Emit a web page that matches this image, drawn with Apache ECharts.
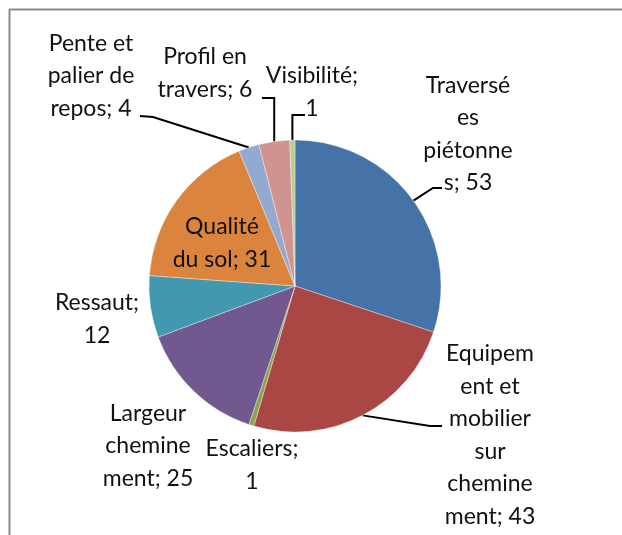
<!DOCTYPE html>
<html>
<head>
<meta charset="utf-8">
<script src="https://cdn.jsdelivr.net/npm/echarts@6/dist/echarts.min.js"></script>
<style>
  html, body { margin: 0; padding: 0; background: #fff; }
  #chart { width: 622px; height: 535px; }
</style>
</head>
<body>
<div id="chart"></div>
<script>
// ---- data ----
const categories = ['Traversées piétonnes', 'Equipement et mobilier sur cheminement', 'Escaliers',
  'Largeur cheminement', 'Ressaut', 'Qualité du sol', 'Pente et palier de repos', 'Profil en travers', 'Visibilité'];
const values = [53, 43, 1, 25, 12, 31, 4, 6, 1];
// label text as wrapped in the source; {c} is replaced by the value
const labelTexts = ['Traversé\nes\npiétonne\ns; {c}', 'Equipem\nent et\nmobilier\nsur\nchemine\nment; {c}',
  'Escaliers;\n{c}', 'Largeur\nchemine\nment; {c}', 'Ressaut;\n{c}', 'Qualité\ndu sol; {c}',
  'Pente et\npalier de\nrepos; {c}', 'Profil en\ntravers; {c}', 'Visibilité;\n{c}'];
const colors = ['#4572A7', '#AA4643', '#89A54E', '#71588F', '#4198AF', '#DB843D', '#93A9CF', '#D19392', '#B9CD96'];

// ---- layout (label centres and leader bends, px) ----
const labelPos = [[468, 134], [490, 435], [252, 465], [148, 446], [97, 319], [222, 243], [91, 76], [205, 73], [312, 92]];
const leaderBends = {
  0: [[433, 188], [442, 188]],
  1: [[430, 426], [442, 426]],
  6: [[153, 117], [140, 116]],
  7: ['v', 98, 262],
  8: ['v', 115, 305]
};
const noLeader = [2, 3, 4, 5];

const chart = echarts.init(document.getElementById('chart'), null, { renderer: 'canvas' });
const data = categories.map((n, i) => {
  const item = { name: n, value: values[i], itemStyle: { color: colors[i] } };
  if (i === 5) { item.label = { position: 'inside' }; }
  if (noLeader.includes(i)) { item.labelLine = { show: false }; }
  return item;
});

chart.setOption({
  animation: false,
  backgroundColor: '#fff',
  graphic: [
    { type: 'line', shape: { x1: 9, y1: 9.5, x2: 622, y2: 9.5 }, style: { stroke: '#8a8a8a', lineWidth: 2 } },
    { type: 'line', shape: { x1: 9.5, y1: 9, x2: 9.5, y2: 535 }, style: { stroke: '#8a8a8a', lineWidth: 2 } }
  ],
  series: [{
    type: 'pie',
    center: [295, 286],
    radius: 146,
    startAngle: 90,
    clockwise: true,
    avoidLabelOverlap: false,
    itemStyle: { borderColor: 'rgba(255,255,255,0.6)', borderWidth: 0.6 },
    label: {
      show: true,
      position: 'outside',
      formatter: p => labelTexts[p.dataIndex].replace('{c}', p.value),
      fontFamily: 'Lato',
      fontSize: 23,
      lineHeight: 32.5,
      color: '#111',
      align: 'center'
    },
    labelLine: { show: true, lineStyle: { color: '#000', width: 2 }, length: 10, length2: 10 },
    labelLayout: function (params) {
      const i = params.dataIndex;
      const res = { x: labelPos[i][0], y: labelPos[i][1], align: 'center', verticalAlign: 'middle' };
      const b = leaderBends[i];
      if (b && params.labelLinePoints) {
        const p0 = params.labelLinePoints[0];
        if (b[0] === 'v') {
          res.labelLinePoints = [p0, [p0[0], b[1]], [b[2], b[1]]];
        } else {
          res.labelLinePoints = [p0, b[0], b[1]];
        }
      }
      return res;
    },
    data: data
  }]
});
</script>
</body>
</html>
